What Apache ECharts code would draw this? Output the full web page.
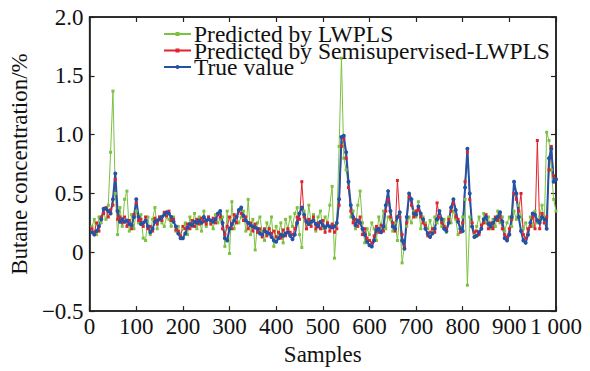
<!DOCTYPE html>
<html>
<head>
<meta charset="utf-8">
<script src="https://cdn.jsdelivr.net/npm/echarts@6/dist/echarts.min.js"></script>
<style>
  html, body { margin: 0; padding: 0; background: #fff; }
  #chart { width: 590px; height: 371px; }
</style>
</head>
<body>
<div id="chart"></div>
<script>
  // 样本编号（每5个样本取一个点）
  var samples = [];
  for (var s = 5; s <= 1000; s += 5) { samples.push(s); }

  var trueValue = [
    0.17, 0.15, 0.18, 0.22, 0.28, 0.37, 0.37, 0.35, 0.33, 0.45,
    0.67, 0.35, 0.26, 0.28, 0.26, 0.27, 0.24, 0.23, 0.30, 0.45,
    0.30, 0.24, 0.25, 0.27, 0.22, 0.17, 0.20, 0.26, 0.27, 0.28,
    0.30, 0.32, 0.34, 0.33, 0.30, 0.26, 0.22, 0.16, 0.12, 0.12,
    0.16, 0.21, 0.24, 0.23, 0.26, 0.25, 0.27, 0.25, 0.30, 0.27,
    0.28, 0.27, 0.26, 0.28, 0.33, 0.35, 0.25, 0.12, 0.10, 0.20,
    0.24, 0.27, 0.30, 0.36, 0.38, 0.31, 0.27, 0.25, 0.23, 0.22,
    0.21, 0.20, 0.16, 0.15, 0.18, 0.17, 0.16, 0.13, 0.10, 0.09,
    0.12, 0.15, 0.14, 0.16, 0.17, 0.14, 0.11, 0.15, 0.25, 0.33,
    0.38, 0.32, 0.26, 0.24, 0.26, 0.27, 0.24, 0.22, 0.26, 0.23,
    0.21, 0.23, 0.22, 0.21, 0.22, 0.25, 0.45, 0.98, 0.99, 0.85,
    0.60, 0.40, 0.30, 0.23, 0.27, 0.25, 0.20, 0.15, 0.09, 0.06,
    0.05, 0.10, 0.19, 0.20, 0.17, 0.22, 0.40, 0.52, 0.35, 0.22,
    0.20, 0.30, 0.34, 0.10, 0.03, 0.30, 0.50, 0.45, 0.33, 0.32,
    0.39, 0.33, 0.28, 0.20, 0.16, 0.13, 0.16, 0.20, 0.28, 0.35,
    0.28, 0.20, 0.18, 0.25, 0.38, 0.45, 0.36, 0.26, 0.20, 0.18,
    0.55, 0.88, 0.50, 0.22, 0.13, 0.14, 0.17, 0.20, 0.28, 0.30,
    0.24, 0.22, 0.25, 0.28, 0.30, 0.34, 0.26, 0.12, 0.10, 0.15,
    0.30, 0.60, 0.50, 0.30, 0.18, 0.10, 0.08, 0.15, 0.25, 0.33,
    0.32, 0.27, 0.25, 0.30, 0.28, 0.20, 0.80, 0.88, 0.60, 0.62
  ];

  var semiLwpls = [
    0.20, 0.17, 0.25, 0.18, 0.30, 0.33, 0.38, 0.30, 0.36, 0.40,
    0.62, 0.28, 0.30, 0.25, 0.30, 0.22, 0.27, 0.20, 0.32, 0.42,
    0.27, 0.28, 0.22, 0.30, 0.20, 0.22, 0.18, 0.29, 0.24, 0.30,
    0.27, 0.34, 0.31, 0.35, 0.27, 0.28, 0.19, 0.18, 0.14, 0.22,
    0.20, 0.24, 0.20, 0.27, 0.22, 0.28, 0.24, 0.29, 0.26, 0.24,
    0.30, 0.24, 0.29, 0.25, 0.32, 0.30, 0.20, 0.15, 0.22, 0.30,
    0.20, 0.32, 0.25, 0.35, 0.33, 0.27, 0.30, 0.20, 0.25, 0.18,
    0.24, 0.17, 0.20, 0.13, 0.20, 0.14, 0.20, 0.16, 0.18, 0.13,
    0.17, 0.12, 0.19, 0.14, 0.20, 0.17, 0.15, 0.20, 0.30, 0.28,
    0.60, 0.30, 0.20, 0.28, 0.22, 0.30, 0.20, 0.25, 0.20, 0.27,
    0.17, 0.25, 0.18, 0.24, 0.17, 0.20, 0.40, 0.90, 0.97, 0.80,
    0.55, 0.35, 0.25, 0.28, 0.22, 0.30, 0.15, 0.20, 0.12, 0.10,
    0.08, 0.14, 0.22, 0.17, 0.23, 0.18, 0.35, 0.45, 0.30, 0.25,
    0.18, 0.61, 0.30, 0.15, 0.05, 0.25, 0.47, 0.40, 0.30, 0.35,
    0.36, 0.30, 0.25, 0.23, 0.14, 0.17, 0.20, 0.17, 0.42, 0.30,
    0.25, 0.22, 0.20, 0.28, 0.35, 0.42, 0.30, 0.28, 0.17, 0.25,
    0.60, 0.85, 0.45, 0.25, 0.17, 0.18, 0.15, 0.23, 0.25, 0.32,
    0.20, 0.25, 0.20, 0.30, 0.27, 0.30, 0.20, 0.15, 0.13, 0.20,
    0.28, 0.50, 0.45, 0.35, 0.50, 0.15, 0.12, 0.20, 0.22, 0.30,
    0.20, 0.95, 0.20, 0.33, 0.25, 0.30, 0.70, 0.90, 0.65, 0.62
  ];

  var lwpls = [
    0.22, 0.28, 0.15, 0.30, 0.25, 0.33, 0.28, 0.40, 0.85, 1.37,
    0.50, 0.15, 0.38, 0.22, 0.45, 0.52, 0.18, 0.32, 0.20, 0.35,
    0.25, 0.32, 0.12, 0.10, 0.30, 0.15, 0.28, 0.38, 0.20, 0.30,
    0.25, 0.22, 0.30, 0.28, 0.22, 0.30, 0.18, 0.22, 0.15, 0.20,
    0.25, 0.15, 0.30, 0.22, 0.33, 0.20, 0.30, 0.18, 0.35, 0.22,
    0.30, 0.25, 0.20, 0.32, 0.25, 0.28, 0.30, 0.05, 0.35, -0.01,
    0.43, 0.20, 0.30, 0.25, 0.30, 0.35, 0.18, 0.45, 0.15, 0.28,
    0.02, 0.25, 0.30, 0.18, 0.10, 0.25, 0.20, 0.30, 0.05, 0.22,
    0.15, 0.25, 0.08, 0.28, 0.20, 0.30, 0.22, 0.33, 0.38, 0.15,
    0.04, 0.35, 0.20, 0.40, 0.25, 0.32, 0.18, 0.30, 0.35, 0.20,
    0.30, 0.25, 0.40, 0.56, -0.05, 0.25, 0.90, 1.65, 0.80, 0.70,
    0.55, 0.30, 0.35, 0.20, 0.40, 0.52, 0.25, 0.08, 0.20, 0.15,
    0.25, 0.20, 0.10, 0.30, 0.22, 0.35, 0.20, 0.30, 0.28, 0.18,
    0.25, 0.10, 0.30, -0.09, 0.05, 0.22, 0.30, 0.25, 0.35, 0.30,
    0.43, 0.20, 0.30, 0.25, 0.20, 0.27, 0.18, 0.30, 0.25, 0.30,
    0.22, 0.28, 0.17, 0.30, 0.25, 0.35, 0.28, 0.15, 0.20, 0.30,
    0.45, -0.28, 0.30, 0.25, 0.15, 0.22, 0.30, 0.20, 0.33, 0.25,
    0.30, 0.20, 0.28, 0.22, 0.35, 0.25, 0.30, 0.18, 0.25, 0.30,
    0.22, 0.35, 0.28, 0.40, 0.30, 0.20, 0.25, 0.15, 0.30, 0.22,
    0.35, 0.25, 0.30, 0.40, 0.25, 1.02, 0.95, 0.70, 0.45, 0.35
  ];

  var xTickLabels = ['0', '100', '200', '300', '400', '500', '600', '700', '800', '900', '1 000'];
  var yTickLabels = ['\u22120.5', '0', '0.5', '1.0', '1.5', '2.0'];

  var fontFamily = '"Liberation Serif", "Times New Roman", serif';
  var frameColor = '#222';

  function toPairs (values) {
    return samples.map(function (x, i) { return [x, values[i]]; });
  }

  var chart = echarts.init(document.getElementById('chart'), null, { renderer: 'svg' });

  var seriesBase = {
    type: 'line',
    symbol: 'rect',
    showSymbol: true,
    animation: false,
    xAxisIndex: 0,
    yAxisIndex: 0
  };

  var frameLine = { show: true, onZero: false, lineStyle: { color: frameColor, width: 1.5 } };
  var frameTick = { show: true, inside: true, length: 5, lineStyle: { color: frameColor, width: 1.2 } };

  chart.setOption({
    animation: false,
    backgroundColor: '#fff',
    textStyle: { fontFamily: fontFamily },
    grid: { left: 83, right: 34, top: 17, bottom: 51, show: true, borderColor: frameColor, borderWidth: 1.5, backgroundColor: 'transparent' },
    legend: {
      orient: 'vertical',
      left: 158,
      top: 17,
      itemWidth: 27,
      itemHeight: 5,
      itemGap: -7.5,
      textStyle: { fontFamily: fontFamily, fontSize: 23.5, color: '#111', padding: [0, 0, 0, -2] },
      data: ['Predicted by LWPLS', 'Predicted by Semisupervised-LWPLS', 'True value']
    },
    xAxis: [{
      type: 'value',
      min: 0,
      max: 1000,
      interval: 100,
      name: 'Samples',
      nameLocation: 'middle',
      nameGap: 24,
      nameTextStyle: { fontFamily: fontFamily, fontSize: 23, color: '#111' },
      axisLine: frameLine,
      axisTick: frameTick,
      axisLabel: {
        margin: 4,
        fontFamily: fontFamily,
        fontSize: 23,
        color: '#111',
        formatter: function (v) { return xTickLabels[Math.round(v / 100)]; }
      },
      splitLine: { show: false }
    }, {
      type: 'value',
      position: 'top',
      min: 0,
      max: 1000,
      interval: 100,
      axisLine: frameLine,
      axisTick: frameTick,
      axisLabel: { show: false },
      splitLine: { show: false }
    }],
    yAxis: [{
      type: 'value',
      min: -0.5,
      max: 2.0,
      interval: 0.5,
      name: 'Butane concentration/%',
      nameLocation: 'middle',
      nameGap: 55,
      nameTextStyle: { fontFamily: fontFamily, fontSize: 23, color: '#111' },
      axisLine: frameLine,
      axisTick: frameTick,
      axisLabel: {
        margin: 6,
        fontFamily: fontFamily,
        fontSize: 23,
        color: '#111',
        formatter: function (v) { return yTickLabels[Math.round((v + 0.5) / 0.5)]; }
      },
      splitLine: { show: false }
    }, {
      type: 'value',
      position: 'right',
      min: -0.5,
      max: 2.0,
      interval: 0.5,
      axisLine: frameLine,
      axisTick: frameTick,
      axisLabel: { show: false },
      splitLine: { show: false }
    }],
    series: [
      Object.assign({}, seriesBase, {
        name: 'Predicted by LWPLS',
        data: toPairs(lwpls),
        symbolSize: 3,
        itemStyle: { color: '#7cc242' },
        lineStyle: { color: '#7cc242', width: 1 }
      }),
      Object.assign({}, seriesBase, {
        name: 'Predicted by Semisupervised-LWPLS',
        data: toPairs(semiLwpls),
        symbolSize: 3,
        itemStyle: { color: '#e3232c' },
        lineStyle: { color: '#e3232c', width: 1 }
      }),
      Object.assign({}, seriesBase, {
        name: 'True value',
        data: toPairs(trueValue),
        symbol: 'circle',
        symbolSize: 4,
        itemStyle: { color: '#2452a4' },
        lineStyle: { color: '#2452a4', width: 2 }
      })
    ]
  });
</script>
</body>
</html>
